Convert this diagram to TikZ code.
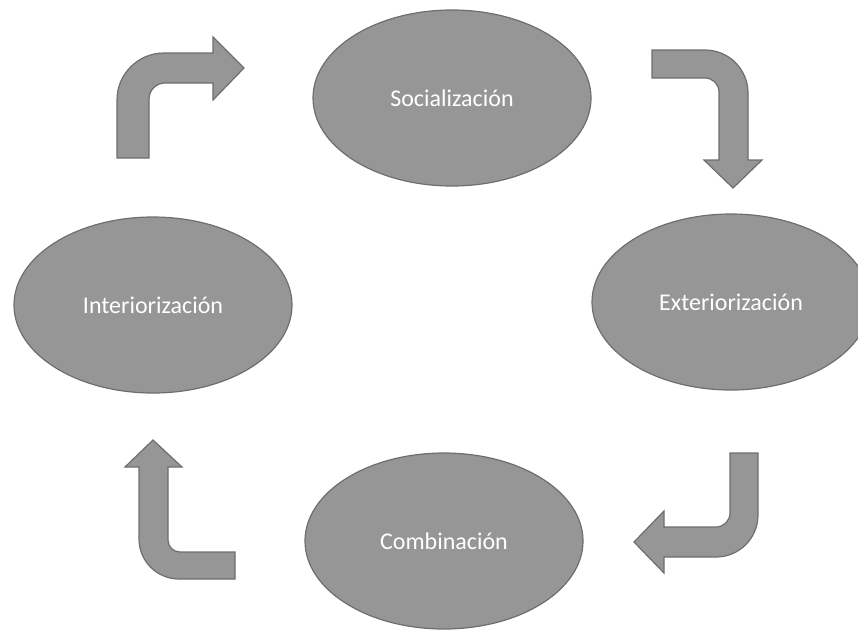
\documentclass[tikz,border=0pt]{standalone}
\usepackage{fontspec}
\setmainfont{Carlito}
\usepackage{tikz}
\usetikzlibrary{
  shapes.geometric,
}
\definecolor{shapegray}{RGB}{150,150,150}
\definecolor{edgegray}{RGB}{110,110,110}
\tikzstyle{phase} = [
  ellipse,
  draw=edgegray,
  line width=1.2pt,
  fill=shapegray,
  minimum width=278pt,
  minimum height=176pt,
  inner sep=0pt,
  text=white,
  font=\fontsize{24}{28}\selectfont,
]
\tikzstyle{bentarrow} = [
  draw=edgegray,
  line width=1.2pt,
  fill=shapegray,
  line join=miter,
]

\begin{document}
\begin{tikzpicture}[x=1pt,y=-1pt]

      \useasboundingbox (0,0) rectangle (858,630);

      \node[phase]    (soc)   at (452,98)     {Socialización};
      \node[phase]    (ext)   at (731,302)    {Exteriorización};
      \node[phase]    (comb)  at (444,541)    {Combinación};
      \node[phase]    (int)   at (153,305)    {Interiorización};

      % up, then right
      \draw[bentarrow] (117,158) -- (117,100) arc[start angle=180,end angle=270,radius=47] -- (213,53) -- (213,37) -- (244,68) -- (213,100) -- (213,83) -- (165,83) arc[start angle=270,end angle=180,radius=16] -- (149,158) -- cycle;
      % right, then down
      \draw[bentarrow] (652,50) -- (705,50) arc[start angle=270,end angle=360,radius=43] -- (748,160) -- (762,160) -- (733,188) -- (704,160) -- (719,160) -- (719,92) arc[start angle=0,end angle=-90,radius=14] -- (652,78) -- cycle;
      % down, then left
      \draw[bentarrow] (730,453) -- (758,453) -- (758,515) arc[start angle=0,end angle=90,radius=42] -- (664,557) -- (664,573) -- (634,542) -- (664,511) -- (664,527) -- (716,527) arc[start angle=90,end angle=0,radius=14] -- cycle;
      % left, then up
      \draw[bentarrow] (235,579) -- (179,579) arc[start angle=90,end angle=180,radius=40] -- (139,467) -- (125,467) -- (153,440) -- (182,467) -- (168,467) -- (168,540) arc[start angle=180,end angle=90,radius=12] -- (235,552) -- cycle;

    \end{tikzpicture}
\end{document}
